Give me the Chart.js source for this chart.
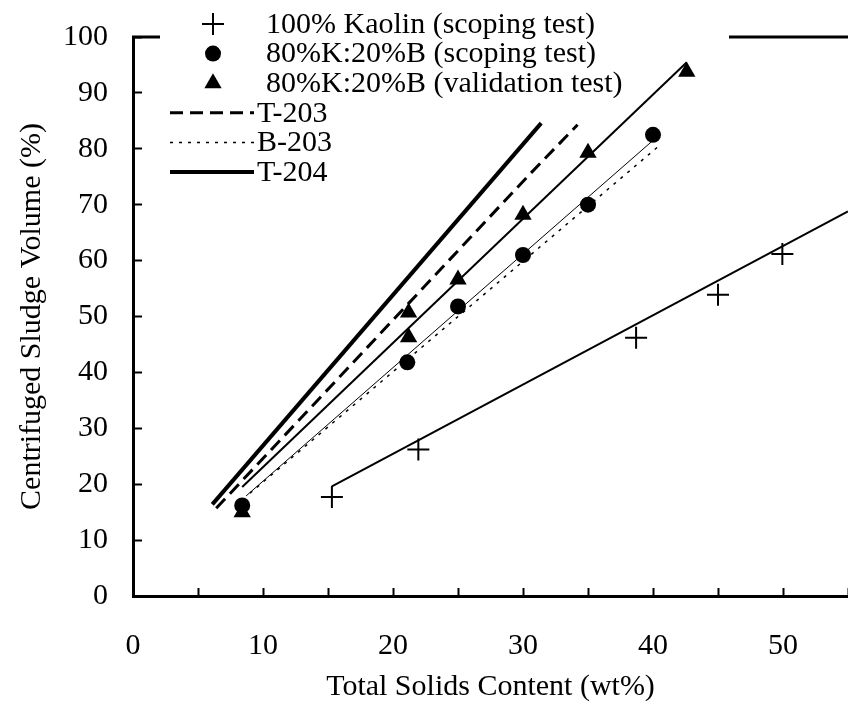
<!DOCTYPE html>
<html>
<head>
<meta charset="utf-8">
<script src="https://cdn.jsdelivr.net/npm/chart.js@4.4.0/dist/chart.umd.min.js"></script>
<style>
    html, body { margin: 0; padding: 0; background: #fff; }
    #chart { display: block; }
</style>
</head>
<body>
<canvas id="chart" width="848" height="707"></canvas>
<script>
// measured points
const kaolin_x = [15.3, 21.95, 38.7, 45.0, 49.95];
const kaolin_y = [17.7, 26.2, 46.2, 53.9, 61.2];

const scoping_x = [8.4, 21.1, 25.0, 30.0, 35.0, 40.0];
const scoping_y = [16.2, 41.8, 51.8, 61.0, 70.0, 82.5];

const validation_x = [8.4, 21.2, 21.2, 25.0, 30.0, 35.0, 42.6];
const validation_y = [15.0, 46.3, 50.7, 56.6, 68.2, 79.3, 93.8];

// fitted lines through the test data
const kaolin_fit_x = [15.3, 55.0];
const kaolin_fit_y = [19.6, 68.8];
const scoping_fit_x = [8.7, 40.0];
const scoping_fit_y = [17.9, 81.5];
const validation_fit_x = [8.4, 42.6];
const validation_fit_y = [19.5, 95.5];

// tank curves
const t203_x = [6.4, 16.3, 30.5, 34.2];
const t203_y = [15.7, 40.2, 75.4, 84.3];
const b203_x = [9.0, 40.5];
const b203_y = [18.4, 80.6];
const t204_x = [6.1, 31.4];
const t204_y = [16.4, 84.6];

const x_ticks = [0, 10, 20, 30, 40, 50];

const font_family = "'Liberation Serif', 'Times New Roman', serif";

function to_points(xs, ys) {
    return xs.map((x, i) => ({x: x, y: ys[i]}));
}

function marks(label, xs, ys, style, radius) {
    return {
        label: label,
        data: to_points(xs, ys),
        showLine: false,
        pointStyle: style,
        pointRadius: radius,
        pointHoverRadius: radius,
        pointBackgroundColor: '#000',
        pointBorderColor: '#000',
        pointBorderWidth: style === 'cross' ? 2 : 0,
        borderWidth: style === 'cross' ? 2 : 0
    };
}

function curve(label, xs, ys, width, dash) {
    return {
        label: label,
        data: to_points(xs, ys),
        showLine: true,
        pointRadius: 0,
        borderColor: '#000',
        borderWidth: width,
        borderDash: dash,
        tension: 0
    };
}

Chart.defaults.font.family = font_family;
Chart.defaults.font.size = 30;
Chart.defaults.color = '#000';

const legend_plugin = {
    id: 'side_legend',
    afterDraw(chart) {
        const ctx = chart.ctx;
        const area = chart.chartArea;
        ctx.save();
        ctx.strokeStyle = '#000';
        ctx.fillStyle = '#000';

        // top frame, broken where the legend sits
        ctx.lineWidth = 3;
        ctx.setLineDash([]);
        ctx.beginPath();
        ctx.moveTo(area.left - 1, area.top);
        ctx.lineTo(160, area.top);
        ctx.moveTo(729, area.top);
        ctx.lineTo(area.right, area.top);
        ctx.stroke();

        ctx.font = '30px ' + font_family;
        ctx.textBaseline = 'middle';
        ctx.textAlign = 'left';

        let row = 0;
        chart.data.datasets.forEach(ds => {
            if (!ds.label) {
                return;
            }
            const y = 24 + row * 29.6;
            let text_x;
            if (ds.showLine) {
                ctx.lineWidth = ds.borderWidth;
                ctx.setLineDash(ds.borderDash || []);
                ctx.beginPath();
                ctx.moveTo(170, y);
                ctx.lineTo(254, y);
                ctx.stroke();
                ctx.setLineDash([]);
                text_x = 257;
            } else {
                ctx.lineWidth = 2;
                Chart.helpers.drawPoint(ctx, {
                    pointStyle: ds.pointStyle,
                    radius: ds.pointRadius,
                    borderWidth: ds.pointBorderWidth,
                    rotation: 0
                }, 213, y);
                text_x = 266;
            }
            ctx.fillText(ds.label, text_x, y + 1);
            row++;
        });
        ctx.restore();
    }
};

new Chart(document.getElementById('chart'), {
    type: 'scatter',
    data: {
        datasets: [
            marks('100% Kaolin (scoping test)', kaolin_x, kaolin_y, 'cross', 11),
            marks('80%K:20%B (scoping test)', scoping_x, scoping_y, 'circle', 8),
            marks('80%K:20%B (validation test)', validation_x, validation_y, 'triangle', 10),
            curve('T-203', t203_x, t203_y, 3, [13, 7]),
            curve('B-203', b203_x, b203_y, 1.5, [3, 6]),
            curve('T-204', t204_x, t204_y, 4, []),
            curve('', kaolin_fit_x, kaolin_fit_y, 2, []),
            curve('', scoping_fit_x, scoping_fit_y, 1, []),
            curve('', validation_fit_x, validation_fit_y, 2, [])
        ]
    },
    options: {
        responsive: false,
        devicePixelRatio: 1,
        animation: false,
        events: [],
        layout: {
            autoPadding: false,
            padding: {top: 37, right: 0, bottom: 0, left: 0}
        },
        plugins: {
            legend: {display: false},
            tooltip: {enabled: false}
        },
        scales: {
            x: {
                type: 'linear',
                min: 0,
                max: 55,
                afterFit: (scale) => {
                    scale.height = 111;
                    scale.paddingLeft = 0;
                    scale.paddingRight = 0;
                },
                afterBuildTicks: (scale) => {
                    const all = [];
                    for (let v = 0; v <= 55; v += 5) all.push({value: v});
                    scale.ticks = all;
                },
                ticks: {
                    autoSkip: false,
                    maxRotation: 0,
                    padding: 40,
                    callback: (v) => x_ticks.includes(v) ? String(v) : ''
                },
                grid: {
                    drawOnChartArea: false,
                    drawTicks: true,
                    tickLength: -8,
                    tickWidth: 2,
                    tickColor: '#000'
                },
                border: {display: true, color: '#000', width: 3},
                title: {
                    display: true,
                    text: 'Total Solids Content (wt%)',
                    padding: 2
                }
            },
            y: {
                type: 'linear',
                min: 0,
                max: 100,
                afterFit: (scale) => {
                    scale.width = 133;
                    scale.paddingTop = 0;
                    scale.paddingBottom = 0;
                },
                ticks: {
                    stepSize: 10,
                    padding: 34
                },
                grid: {
                    drawOnChartArea: false,
                    drawTicks: true,
                    tickLength: -9,
                    tickWidth: 2,
                    tickColor: '#000'
                },
                border: {display: true, color: '#000', width: 3},
                title: {
                    display: true,
                    text: 'Centrifuged Sludge Volume (%)',
                    padding: 14
                }
            }
        }
    },
    plugins: [legend_plugin]
});
</script>
</body>
</html>
